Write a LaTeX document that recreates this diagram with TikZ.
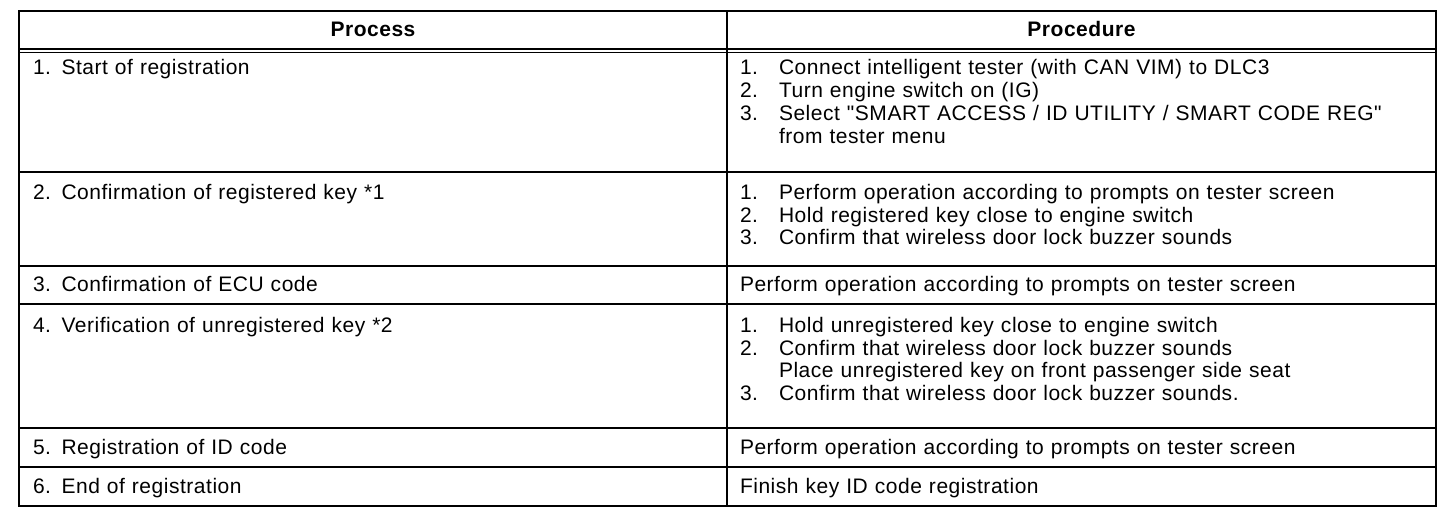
\documentclass[tikz,border=0pt]{standalone}
\usepackage{fontspec}
\setmainfont{Liberation Sans}[LetterSpace=2.5, Ligatures=TeXOff]
\usepackage{tikz}
\usetikzlibrary{positioning}

\newcommand{\stepno}[1]{\makebox[19.5pt][l]{#1}}

\begin{document}
\begin{tikzpicture}[x=0.5pt, y=-0.5pt, line width=1pt,
	cell/.style={anchor=base west, inner sep=0pt, text width=340pt, align=left, font=\fontsize{10.5}{11.35}\selectfont},
	head/.style={anchor=base, inner sep=0pt, font=\fontsize{10.5}{11.35}\selectfont\bfseries}]
		\useasboundingbox (0,0) rectangle (1456,518);
		% table rules
		\draw[line width=1.4pt] (19,11) rectangle (1436,506);
		\draw (727,11) -- (727,506);
		\draw[line width=0.7pt] (19,49) -- (1436,49);
		\draw[line width=0.7pt] (19,52.5) -- (1436,52.5);
		\foreach \y in {172,266,304,428,467}
			\draw (19,\y) -- (1436,\y);
		% headers
		\node[head] (process) at (373,36.5) {Process};
		\node[head] (procedure) at (1081.5,36.5) {Procedure};
		% process column
		\node[cell] (p1) at (32,75) {1. Start of registration};
		\node[cell] (p2) at (32,199.5) {2. Confirmation of registered key *1};
		\node[cell] (p3) at (32,291.5) {3. Confirmation of ECU code};
		\node[cell] (p4) at (32,332.5) {4. Verification of unregistered key *2};
		\node[cell] (p5) at (32,454) {5. Registration of ID code};
		\node[cell] (p6) at (32,493) {6. End of registration};
		% procedure column
		\node[cell] (s1) at (739,75) {\stepno{1.}Connect intelligent tester (with CAN VIM) to DLC3\\
			\stepno{2.}Turn engine switch on (IG)\\
			\stepno{3.}Select "SMART ACCESS / ID UTILITY / SMART CODE REG"\\
			\stepno{}from tester menu};
		\node[cell] (s2) at (739,199.5) {\stepno{1.}Perform operation according to prompts on tester screen\\
			\stepno{2.}Hold registered key close to engine switch\\
			\stepno{3.}Confirm that wireless door lock buzzer sounds};
		\node[cell] (s3) at (739,291.5) {Perform operation according to prompts on tester screen};
		\node[cell] (s4) at (739,332.5) {\stepno{1.}Hold unregistered key close to engine switch\\
			\stepno{2.}Confirm that wireless door lock buzzer sounds\\
			\stepno{}Place unregistered key on front passenger side seat\\
			\stepno{3.}Confirm that wireless door lock buzzer sounds.};
		\node[cell] (s5) at (739,454) {Perform operation according to prompts on tester screen};
		\node[cell] (s6) at (739,493) {Finish key ID code registration};
\end{tikzpicture}
\end{document}
